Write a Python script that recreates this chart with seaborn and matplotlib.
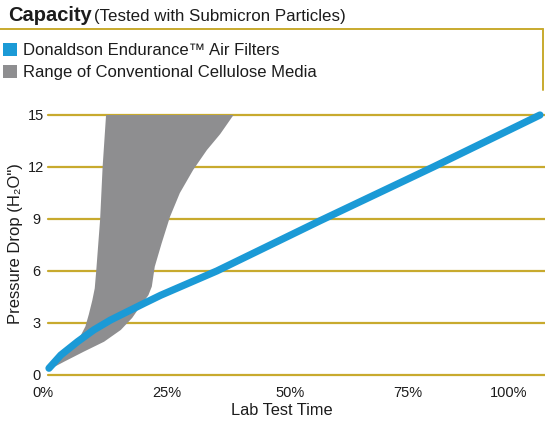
import matplotlib
matplotlib.use("Agg")
import matplotlib.pyplot as plt
import matplotlib.transforms as mtransforms
from matplotlib.patches import Patch
from matplotlib.lines import Line2D
import seaborn as sns
import pandas as pd

# ---- data ----
x_ticks = [0, 25, 50, 75, 100]
x_tick_labels = ["0%", "25%", "50%", "75%", "100%"]
y_ticks = [0, 3, 6, 9, 12, 15]

# Donaldson Endurance line (lab test time %, pressure drop)
blue_x = [0.2, 2.6, 6.0, 9.3, 12.7, 16.1, 19.5, 22.9, 34.3, 55.3, 78.3, 100]
blue_y = [0.39, 1.15, 1.92, 2.6, 3.17, 3.65, 4.13, 4.6, 6.0, 8.9, 12.0, 15.0]

# Conventional cellulose range: right/lower boundary (bottom -> top)
range_right_x = [0.5, 1.5, 3.3, 7.3, 11.4, 14.8, 17.1, 18.5, 19.6, 20.4, 21.1, 21.7, 23.1, 24.8, 26.8, 29.5, 32.3, 35.0, 37.7]
range_right_y = [0.3, 0.5, 0.77, 1.35, 1.92, 2.6, 3.29, 3.86, 4.3, 4.6, 5.1, 6.25, 7.6, 9.13, 10.5, 11.83, 12.98, 13.9, 15.0]
# left/upper boundary (top -> bottom)
range_left_x = [11.8, 11.45, 11.1, 10.85, 10.6, 10.2, 9.8, 9.5, 9.0, 8.3, 7.6, 6.5, 4.0, 1.5, 0.5]
range_left_y = [15.0, 13.5, 12.0, 10.5, 9.0, 7.5, 6.0, 5.0, 4.3, 3.5, 2.8, 2.2, 1.3, 0.6, 0.3]

legend_labels = ["Donaldson Endurance\u2122 Air Filters", "Range of Conventional Cellulose Media"]

BLUE = "#1b9ad6"
GRAY = "#8e8e90"
GOLD = "#c8aa2e"
TXT = "#1c1c1c"

sns.set_theme(style="white")
plt.rcParams["font.family"] = ["Liberation Sans", "DejaVu Sans"]
NARROW = ["Liberation Sans Narrow", "Liberation Sans", "DejaVu Sans"]

W, H = 545, 426
fig = plt.figure(figsize=(W / 100, H / 100), dpi=100)
fig.patch.set_facecolor("white")
ax = fig.add_axes([48 / W, 51 / H, 497 / W, 260 / H])
ax.set_facecolor("white")

# gray range polygon
poly_x = range_right_x + range_left_x
poly_y = range_right_y + range_left_y
ax.fill(poly_x, poly_y, color=GRAY, lw=0, zorder=2, antialiased=True)

# blue line
df = pd.DataFrame({"time": blue_x, "dp": blue_y})
sns.lineplot(data=df, x="time", y="dp", color=BLUE, lw=5.2, ax=ax, sort=False, zorder=3)
for ln in ax.lines:
    ln.set_clip_on(False)
    ln.set_solid_capstyle("round")
    ln.set_solid_joinstyle("round")

ax.set_xlim(0, 100 * 497 / 492)
ax.set_ylim(0, 15)
for s in ax.spines.values():
    s.set_visible(False)

ax.set_yticks(y_ticks)
ax.set_yticklabels([str(v) for v in y_ticks])
ax.set_xticks(x_ticks)
ax.set_xticklabels(x_tick_labels)
ax.yaxis.grid(True, color=GOLD, lw=1.6, zorder=1)
ax.xaxis.grid(False)
ax.set_axisbelow(True)
for gl in ax.get_ygridlines():
    gl.set_clip_on(False)

ax.tick_params(axis="both", length=0, colors=TXT)
ax.tick_params(axis="y", pad=8.5)
ax.tick_params(axis="x", pad=8.0)
for lab in ax.get_yticklabels():
    lab.set_fontfamily(NARROW)
    lab.set_fontsize(10.5)
    lab.set_horizontalalignment("center")
offsets = [-5, -4, -4, -9, -31]
for lab, dx in zip(ax.get_xticklabels(), offsets):
    lab.set_fontfamily(NARROW)
    lab.set_fontsize(10.5)
    lab.set_transform(lab.get_transform() + mtransforms.ScaledTranslation(dx / 100, 0, fig.dpi_scale_trans))

ax.set_xlabel("Lab Test Time", fontsize=11.8, color=TXT)
ax.xaxis.set_label_coords((282 - 48) / 497, -(403 - 375) / 260)
ax.set_ylabel("Pressure Drop (H\u2082O\")", fontsize=12, color=TXT)
ax.yaxis.set_label_coords((23 - 48) / 497, (375 - 244) / 260)

# title
fig.text(8 / W, 1 - 21 / H, "Capacity", fontsize=14.5, fontweight="bold", color=TXT, va="baseline", ha="left")
fig.text(94 / W, 1 - 21 / H, "(Tested with Submicron Particles)", fontsize=12.2, color=TXT, va="baseline", ha="left")

# frame lines at top
fig.add_artist(Line2D([0, 543 / W], [1 - 29 / H, 1 - 29 / H], color=GOLD, lw=1.4, transform=fig.transFigure))
fig.add_artist(Line2D([543 / W, 543 / W], [1 - 29 / H, 1 - 90 / H], color=GOLD, lw=1.4, transform=fig.transFigure))

# legend
handles = [Patch(facecolor=BLUE, edgecolor="none"), Patch(facecolor=GRAY, edgecolor="none")]
fig.legend(handles, legend_labels, loc="upper left", bbox_to_anchor=(3 / W, 1 - 43 / H),
           frameon=False, fontsize=12, handlelength=0.84, handleheight=0.84,
           handletextpad=0.35, labelspacing=0.38, borderpad=0, borderaxespad=0, labelcolor=TXT)

fig.savefig("out.png", dpi=100, facecolor="white")
